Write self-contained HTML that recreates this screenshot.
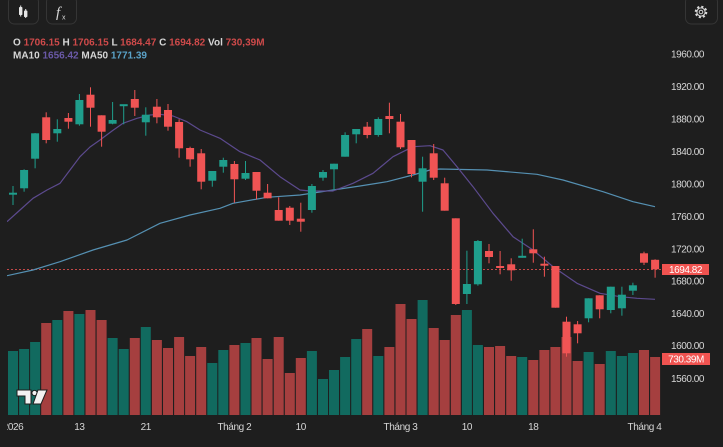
<!DOCTYPE html>
<html><head><meta charset="utf-8"><style>
html,body{margin:0;padding:0;background:#1e1e1e;}
svg{display:block;font-family:"Liberation Sans",sans-serif;}
</style></head><body>
<svg width="723" height="447" viewBox="0 0 723 447" xmlns="http://www.w3.org/2000/svg">
<rect width="723" height="447" fill="#1e1e1e"/>
<defs><clipPath id="pane"><rect x="7" y="0" width="655" height="447"/></clipPath></defs>

<!-- toolbar -->
<rect x="8.5" y="-4" width="30" height="28" rx="6" fill="#1e1e1e" stroke="#353535"/>
<rect x="46.5" y="-4" width="30" height="28" rx="6" fill="#1e1e1e" stroke="#353535"/>
<rect x="685.5" y="-4" width="32" height="28" rx="6" fill="#1e1e1e" stroke="#353535"/>
<rect x="20.2" y="5.5" width="1" height="11" fill="#e6e6e6"/>
<rect x="19" y="7" width="3.4" height="8" rx="0.8" fill="#e6e6e6"/>
<rect x="25.2" y="9" width="1" height="9" fill="#e6e6e6"/>
<rect x="24" y="10.5" width="3.4" height="6.5" rx="0.8" fill="#e6e6e6"/>
<text x="56" y="17" font-family="Liberation Serif,serif" font-style="italic" font-size="15" fill="#d8d8d8">f</text>
<text x="62" y="19.5" font-size="7" fill="#d8d8d8">x</text>
<g transform="translate(701,12)" fill="none" stroke="#d8d8d8">
<circle r="5.2" stroke-width="2.2" stroke-dasharray="2.1 2"/>
<circle r="4.1" stroke-width="1" fill="#1e1e1e"/>
<circle r="1.8" stroke-width="1"/>
</g>

<!-- legend -->
<text y="45.5" font-size="10" font-weight="bold" fill="#d6d6d6"><tspan x="13">O </tspan><tspan fill="#cf4a4a">1706.15 </tspan><tspan>H </tspan><tspan fill="#cf4a4a">1706.15 </tspan><tspan>L </tspan><tspan fill="#cf4a4a">1684.47 </tspan><tspan>C </tspan><tspan fill="#cf4a4a">1694.82 </tspan><tspan>Vol </tspan><tspan fill="#cf4a4a">730,39M</tspan></text>
<text y="58.5" font-size="10" font-weight="bold" fill="#d6d6d6"><tspan x="13">MA10 </tspan><tspan fill="#6a59a8">1656.42 </tspan><tspan>MA50 </tspan><tspan fill="#5aa2c8">1771.39</tspan></text>

<!-- price axis -->
<g font-size="10" fill="#d6d6d6" text-anchor="end" letter-spacing="-0.45">
<text x="704" y="57.5">1960.00</text>
<text x="704" y="90">1920.00</text>
<text x="704" y="122.5">1880.00</text>
<text x="704" y="155">1840.00</text>
<text x="704" y="187.5">1800.00</text>
<text x="704" y="220">1760.00</text>
<text x="704" y="252.5">1720.00</text>
<text x="704" y="284.5">1680.00</text>
<text x="704" y="317">1640.00</text>
<text x="704" y="349">1600.00</text>
<text x="704" y="382">1560.00</text>
</g>

<g clip-path="url(#pane)">
<!-- volume -->
<g fill="#116a5f">
<rect x="8" y="351" width="10" height="64"/>
<rect x="19.1" y="349" width="10" height="66"/>
<rect x="30.1" y="342" width="10" height="73"/>
<rect x="52.3" y="320" width="10" height="95"/>
<rect x="74.4" y="314" width="10" height="101"/>
<rect x="107.6" y="338" width="10" height="77"/>
<rect x="118.7" y="349" width="10" height="66"/>
<rect x="140.8" y="327" width="10" height="88"/>
<rect x="207.3" y="363" width="10" height="52"/>
<rect x="218.3" y="350" width="10" height="65"/>
<rect x="240.5" y="343" width="10" height="72"/>
<rect x="306.9" y="351" width="10" height="64"/>
<rect x="318" y="379" width="10" height="36"/>
<rect x="329" y="370" width="10" height="45"/>
<rect x="340.1" y="357" width="10" height="58"/>
<rect x="351.2" y="339" width="10" height="76"/>
<rect x="373.3" y="356" width="10" height="59"/>
<rect x="417.6" y="300" width="10" height="115"/>
<rect x="461.9" y="310" width="10" height="105"/>
<rect x="472.9" y="345" width="10" height="70"/>
<rect x="517.2" y="357" width="10" height="58"/>
<rect x="583.6" y="352" width="10" height="63"/>
<rect x="605.8" y="351" width="10" height="64"/>
<rect x="616.9" y="356" width="10" height="59"/>
<rect x="627.9" y="353" width="10" height="62"/>
</g>
<g fill="#a53f3f">
<rect x="41.2" y="323" width="10" height="92"/>
<rect x="63.4" y="311" width="10" height="104"/>
<rect x="85.5" y="310" width="10" height="105"/>
<rect x="96.6" y="320" width="10" height="95"/>
<rect x="129.8" y="338" width="10" height="77"/>
<rect x="151.9" y="340" width="10" height="75"/>
<rect x="163" y="348" width="10" height="67"/>
<rect x="174.1" y="337" width="10" height="78"/>
<rect x="185.1" y="356" width="10" height="59"/>
<rect x="196.2" y="347" width="10" height="68"/>
<rect x="229.4" y="345" width="10" height="70"/>
<rect x="251.5" y="338" width="10" height="77"/>
<rect x="262.6" y="359" width="10" height="56"/>
<rect x="273.7" y="337" width="10" height="78"/>
<rect x="284.8" y="373" width="10" height="42"/>
<rect x="295.8" y="358" width="10" height="57"/>
<rect x="362.2" y="329" width="10" height="86"/>
<rect x="384.4" y="347" width="10" height="68"/>
<rect x="395.5" y="304" width="10" height="111"/>
<rect x="406.5" y="319" width="10" height="96"/>
<rect x="428.7" y="328" width="10" height="87"/>
<rect x="439.7" y="340" width="10" height="75"/>
<rect x="450.8" y="315" width="10" height="100"/>
<rect x="484" y="347" width="10" height="68"/>
<rect x="495.1" y="346" width="10" height="69"/>
<rect x="506.2" y="356" width="10" height="59"/>
<rect x="528.3" y="360" width="10" height="55"/>
<rect x="539.4" y="350" width="10" height="65"/>
<rect x="550.4" y="347" width="10" height="68"/>
<rect x="561.5" y="337" width="10" height="78"/>
<rect x="572.6" y="361" width="10" height="54"/>
<rect x="594.7" y="364" width="10" height="51"/>
<rect x="639" y="350" width="10" height="65"/>
<rect x="650.1" y="357" width="10" height="58"/>
</g>

<!-- last price dotted line -->
<line x1="7" y1="269.5" x2="662" y2="269.5" stroke="#c24848" stroke-width="1" stroke-dasharray="2 2"/>

<!-- MA50 -->
<polyline fill="none" stroke="#5590b2" stroke-width="1.2" stroke-linejoin="round" points="7,275.7 33,270 60,261.7 93,250 127,240 160,223.3 190,215 220,208.3 233,203.3 267,197.3 300,195 333,190 360,186 387,181.7 413,175 430,170 440,169 487,170 537,174.3 563,180 603,191.7 633,201.7 655,206.7"/>
<!-- MA10 -->
<polyline fill="none" stroke="#5c4a8e" stroke-width="1.2" stroke-linejoin="round" points="7,221.7 20,210 33,198.3 47,190 60,183.3 70,170 80,156.7 90,147 100,140 112,131 123,123.3 137,118.3 150,115 160,114.3 173,116 187,121.7 200,130 220,138.3 240,151.7 260,160 280,176.7 300,190 310,191 333,191 353,183.3 373,173.3 393,156.7 413,146.7 430,145.7 443,150 457,166.7 473,186.7 493,213.3 513,236.7 533,250 553,266.7 577,283.3 600,293.3 620,296.7 637,298.3 655,299.3"/>

<!-- up candles -->
<g fill="#1f9e8c">
<rect x="12.5" y="186" width="1" height="19"/><rect x="9" y="192.7" width="8" height="2"/>
<rect x="23.6" y="169.3" width="1" height="22.4"/><rect x="20.1" y="170" width="8" height="18.3"/>
<rect x="34.6" y="133" width="1" height="35.3"/><rect x="31.1" y="133.3" width="8" height="25.4"/>
<rect x="56.8" y="119.3" width="1" height="22.4"/><rect x="53.3" y="129" width="8" height="4.3"/>
<rect x="78.9" y="94" width="1" height="31.7"/><rect x="75.4" y="100" width="8" height="24.3"/>
<rect x="112.1" y="102" width="1" height="22.3"/><rect x="108.6" y="120" width="8" height="3.7"/>
<rect x="123.2" y="104.7" width="1" height="19.6"/><rect x="119.7" y="104.2" width="8" height="2"/>
<rect x="145.3" y="107.3" width="1" height="28.4"/><rect x="141.8" y="114.7" width="8" height="7.6"/>
<rect x="211.8" y="171" width="1" height="15.7"/><rect x="208.3" y="171" width="8" height="9.7"/>
<rect x="222.8" y="157.7" width="1" height="15"/><rect x="219.3" y="160" width="8" height="6.7"/>
<rect x="245" y="161" width="1" height="19"/><rect x="241.5" y="173" width="8" height="5.7"/>
<rect x="311.4" y="184" width="1" height="28.7"/><rect x="307.9" y="186" width="8" height="24"/>
<rect x="322.5" y="170" width="1" height="10.7"/><rect x="319" y="172" width="8" height="5.7"/>
<rect x="333.5" y="163.7" width="1" height="26.3"/><rect x="330" y="163.7" width="8" height="5.6"/>
<rect x="344.6" y="132.3" width="1" height="24.4"/><rect x="341.1" y="135" width="8" height="21.7"/>
<rect x="355.7" y="129" width="1" height="14.3"/><rect x="352.2" y="129" width="8" height="5.3"/>
<rect x="377.8" y="117.3" width="1" height="19.4"/><rect x="374.3" y="119" width="8" height="16"/>
<rect x="422.1" y="156.7" width="1" height="55"/><rect x="418.6" y="168.3" width="8" height="13.4"/>
<rect x="466.4" y="250.7" width="1" height="53.3"/><rect x="462.9" y="284" width="8" height="10"/>
<rect x="477.4" y="240" width="1" height="45.7"/><rect x="473.9" y="241" width="8" height="43.3"/>
<rect x="521.7" y="238.7" width="1" height="19"/><rect x="518.2" y="255.8" width="8" height="2"/>
<rect x="588.1" y="298.3" width="1" height="24"/><rect x="584.6" y="298.3" width="8" height="20"/>
<rect x="610.3" y="286.7" width="1" height="26.6"/><rect x="606.8" y="286.7" width="8" height="23.3"/>
<rect x="621.4" y="286.7" width="1" height="29"/><rect x="617.9" y="294.7" width="8" height="13.6"/>
<rect x="632.4" y="282.7" width="1" height="12.3"/><rect x="628.9" y="285.3" width="8" height="5.4"/>
</g>
<!-- down candles -->
<g fill="#f05454">
<rect x="45.7" y="112.3" width="1" height="31"/><rect x="42.2" y="117.3" width="8" height="22.7"/>
<rect x="67.9" y="113" width="1" height="15.7"/><rect x="64.4" y="118" width="8" height="3.7"/>
<rect x="90" y="87.3" width="1" height="39.4"/><rect x="86.5" y="94.7" width="8" height="13"/>
<rect x="101.1" y="115.3" width="1" height="31.4"/><rect x="97.6" y="115.3" width="8" height="16.4"/>
<rect x="134.3" y="90" width="1" height="26"/><rect x="130.8" y="99" width="8" height="8.7"/>
<rect x="156.4" y="99" width="1" height="24.3"/><rect x="152.9" y="106.7" width="8" height="10.6"/>
<rect x="167.5" y="104" width="1" height="26.7"/><rect x="164" y="110" width="8" height="16.7"/>
<rect x="178.6" y="119.3" width="1" height="38.4"/><rect x="175.1" y="122" width="8" height="26.3"/>
<rect x="189.6" y="146.7" width="1" height="20"/><rect x="186.1" y="148" width="8" height="11.3"/>
<rect x="200.7" y="149" width="1" height="40.3"/><rect x="197.2" y="153.3" width="8" height="28.4"/>
<rect x="233.9" y="161" width="1" height="41.7"/><rect x="230.4" y="164" width="8" height="15.3"/>
<rect x="256" y="172" width="1" height="27.3"/><rect x="252.5" y="172" width="8" height="18.7"/>
<rect x="267.1" y="184" width="1" height="14.3"/><rect x="263.6" y="192.7" width="8" height="5.6"/>
<rect x="278.2" y="197.3" width="1" height="23.4"/><rect x="274.7" y="210" width="8" height="10.7"/>
<rect x="289.3" y="206" width="1" height="19"/><rect x="285.8" y="207.7" width="8" height="13"/>
<rect x="300.3" y="202.7" width="1" height="29"/><rect x="296.8" y="218.7" width="8" height="3"/>
<rect x="366.7" y="122" width="1" height="16.3"/><rect x="363.2" y="126.7" width="8" height="8.3"/>
<rect x="388.9" y="102.7" width="1" height="30.6"/><rect x="385.4" y="116" width="8" height="3"/>
<rect x="400" y="114" width="1" height="35"/><rect x="396.5" y="121.7" width="8" height="25.6"/>
<rect x="411" y="140" width="1" height="37.3"/><rect x="407.5" y="140" width="8" height="34"/>
<rect x="433.2" y="144" width="1" height="36"/><rect x="429.7" y="153.3" width="8" height="24.4"/>
<rect x="444.2" y="177.7" width="1" height="33"/><rect x="440.7" y="183.3" width="8" height="27.4"/>
<rect x="455.3" y="218.3" width="1" height="86.7"/><rect x="451.8" y="218.3" width="8" height="85.7"/>
<rect x="488.5" y="244" width="1" height="19.3"/><rect x="485" y="251" width="8" height="6"/>
<rect x="499.6" y="251" width="1" height="23.3"/><rect x="496.1" y="266" width="8" height="2"/>
<rect x="510.7" y="258.3" width="1" height="22.4"/><rect x="507.2" y="264.3" width="8" height="6"/>
<rect x="532.8" y="229.3" width="1" height="33.4"/><rect x="529.3" y="249.3" width="8" height="4"/>
<rect x="543.9" y="256.7" width="1" height="20"/><rect x="540.4" y="263.7" width="8" height="2"/>
<rect x="554.9" y="266" width="1" height="41.7"/><rect x="551.4" y="266" width="8" height="41.7"/>
<rect x="566" y="316.7" width="1" height="40"/><rect x="562.5" y="321.7" width="8" height="31.6"/>
<rect x="577.1" y="321" width="1" height="22.3"/><rect x="573.6" y="324.3" width="8" height="9"/>
<rect x="599.2" y="295.3" width="1" height="23"/><rect x="595.7" y="295.3" width="8" height="14"/>
<rect x="643.5" y="251.7" width="1" height="13.3"/><rect x="640" y="253.3" width="8" height="9.4"/>
<rect x="654.6" y="259.3" width="1" height="18.4"/><rect x="651.1" y="259.8" width="8" height="9.5"/>
</g>

<!-- time axis -->
<g font-size="10" fill="#d6d6d6" text-anchor="middle" letter-spacing="-0.4">
<text x="13" y="430">2026</text>
<text x="79.4" y="430">13</text>
<text x="145.8" y="430">21</text>
<text x="234.4" y="430">Tháng 2</text>
<text x="300.8" y="430">10</text>
<text x="400.5" y="430">Tháng 3</text>
<text x="466.9" y="430">10</text>
<text x="533.3" y="430">18</text>
<text x="644.5" y="430">Tháng 4</text>
</g>
</g>

<!-- TV logo -->
<g fill="#f2f2f2" stroke="#1e1e1e" stroke-width="1">
<path d="M17,390 H31 V404 H25 V396 H17 Z"/>
<circle cx="34.5" cy="393" r="2.6"/>
<path d="M38,390 H47 L41,404 H33 Z"/>
</g>

<!-- price labels -->
<rect x="662" y="264" width="47" height="11" fill="#f05350"/>
<text x="685.5" y="273" font-size="10" fill="#ffffff" text-anchor="middle" letter-spacing="-0.45">1694.82</text>
<rect x="662" y="353" width="48" height="12" fill="#f05350"/>
<text x="686" y="362.5" font-size="10" fill="#ffffff" text-anchor="middle" letter-spacing="-0.45">730.39M</text>
</svg>
</body></html>
